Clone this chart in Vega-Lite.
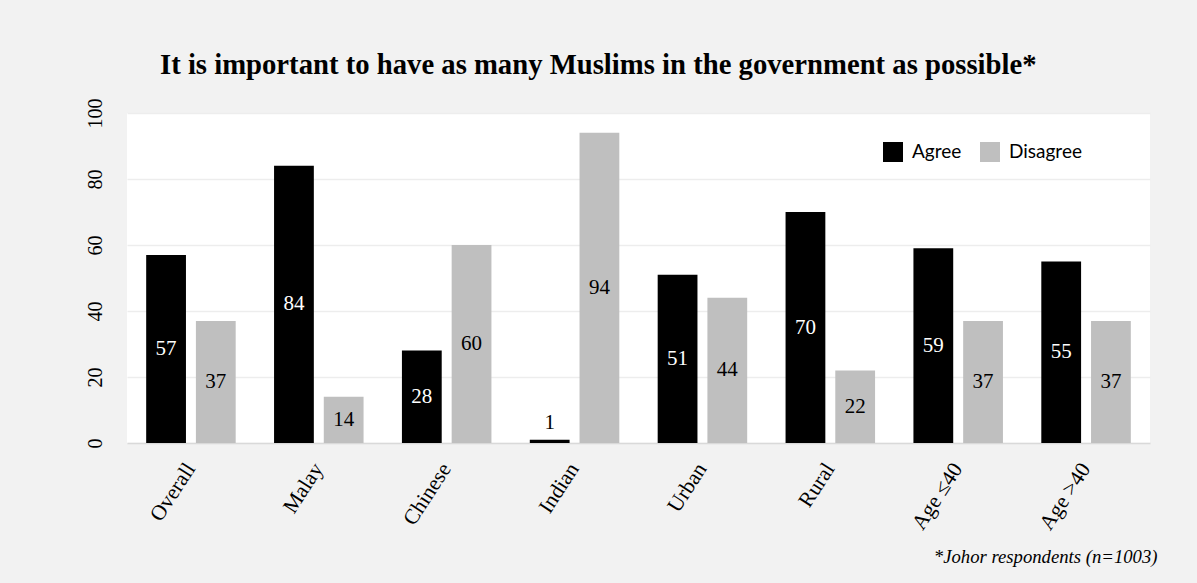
{
  "$schema": "https://vega.github.io/schema/vega-lite/v6.json",
  "width": 1023,
  "height": 330,
  "autosize": {"type": "none"},
  "padding": {"left": 127, "top": 113, "right": 47, "bottom": 140},
  "background": "#f2f2f2",
  "config": {"view": {"fill": "white", "stroke": null}},
  "title": {
    "text": "It is important to have as many Muslims in the government as possible*",
    "font": "Liberation Serif",
    "fontSize": 28.7,
    "fontWeight": "bold",
    "color": "black",
    "anchor": "start",
    "frame": "group",
    "dx": 33,
    "dy": 43,
    "offset": 38,
    "baseline": "alphabetic"
  },
  "data": {
    "values": [
      {"group": "Overall", "response": "Agree", "value": 57},
      {"group": "Overall", "response": "Disagree", "value": 37},
      {"group": "Malay", "response": "Agree", "value": 84},
      {"group": "Malay", "response": "Disagree", "value": 14},
      {"group": "Chinese", "response": "Agree", "value": 28},
      {"group": "Chinese", "response": "Disagree", "value": 60},
      {"group": "Indian", "response": "Agree", "value": 1},
      {"group": "Indian", "response": "Disagree", "value": 94},
      {"group": "Urban", "response": "Agree", "value": 51},
      {"group": "Urban", "response": "Disagree", "value": 44},
      {"group": "Rural", "response": "Agree", "value": 70},
      {"group": "Rural", "response": "Disagree", "value": 22},
      {"group": "Age ≤40", "response": "Agree", "value": 59},
      {"group": "Age ≤40", "response": "Disagree", "value": 37},
      {"group": "Age >40", "response": "Agree", "value": 55},
      {"group": "Age >40", "response": "Disagree", "value": 37}
    ]
  },
  "encoding": {
    "x": {
      "field": "group",
      "type": "nominal",
      "sort": ["Overall", "Malay", "Chinese", "Indian", "Urban", "Rural", "Age ≤40", "Age >40"],
      "scale": {"paddingInner": 0.3, "paddingOuter": 0.15},
      "axis": {
        "title": "*Johor respondents (n=1003)",
        "titleFont": "Liberation Serif",
        "titleFontStyle": "italic",
        "titleFontWeight": "normal",
        "titleFontSize": 18.7,
        "titleColor": "black",
        "titleAnchor": "end",
        "titleAlign": "right",
        "titleX": 1030,
        "titleY": 119,
        "titleBaseline": "alphabetic",
        "labelAngle": -57,
        "labelAlign": "right",
        "labelBaseline": "middle",
        "ticks": false,
        "domainColor": "#d9d9d9",
        "domainWidth": 1.5,
        "labelPadding": 22,
        "labelFont": "Liberation Serif",
        "labelFontSize": 21.5,
        "labelColor": "black"
      }
    },
    "xOffset": {"field": "response", "sort": ["Agree", "Disagree"], "scale": {"paddingInner": 0.2}}
  },
  "layer": [
    {
      "mark": {"type": "bar"},
      "encoding": {
        "y": {
          "field": "value",
          "type": "quantitative",
          "scale": {"domain": [0, 100]},
          "axis": {
            "title": null,
            "values": [0, 20, 40, 60, 80, 100],
            "labelAngle": -90,
            "labelAlign": "center",
            "labelBaseline": "bottom",
            "ticks": false,
            "domain": false,
            "labelPadding": 22,
            "gridColor": "#ededed",
            "gridWidth": 1.5,
            "labelFont": "Liberation Serif",
            "labelFontSize": 20,
            "labelColor": "black"
          }
        },
        "color": {
          "field": "response",
          "type": "nominal",
          "scale": {"domain": ["Agree", "Disagree"], "range": ["#000000", "#bfbfbf"]},
          "legend": {
            "title": null,
            "orient": "none",
            "legendX": 756,
            "legendY": 29,
            "direction": "horizontal",
            "symbolType": "square",
            "symbolSize": 400,
            "symbolStrokeWidth": 0,
            "labelFont": "Lato",
            "labelFontSize": 19,
            "labelColor": "black",
            "labelOffset": 9,
            "columnPadding": 18,
            "padding": 0
          }
        }
      }
    },
    {
      "transform": [{"filter": "datum.value >= 5"}, {"calculate": "datum.value / 2", "as": "mid"}],
      "mark": {"type": "text", "font": "Liberation Serif", "fontSize": 21, "baseline": "middle"},
      "encoding": {
        "y": {"field": "mid", "type": "quantitative"},
        "text": {"field": "value", "type": "quantitative"},
        "color": {"condition": {"test": "datum.response === 'Agree'", "value": "white"}, "value": "black"}
      }
    },
    {
      "transform": [{"filter": "datum.value < 5"}],
      "mark": {"type": "text", "font": "Liberation Serif", "fontSize": 21, "baseline": "bottom", "dy": -7, "color": "black"},
      "encoding": {
        "y": {"field": "value", "type": "quantitative"},
        "text": {"field": "value", "type": "quantitative"}
      }
    }
  ]
}
